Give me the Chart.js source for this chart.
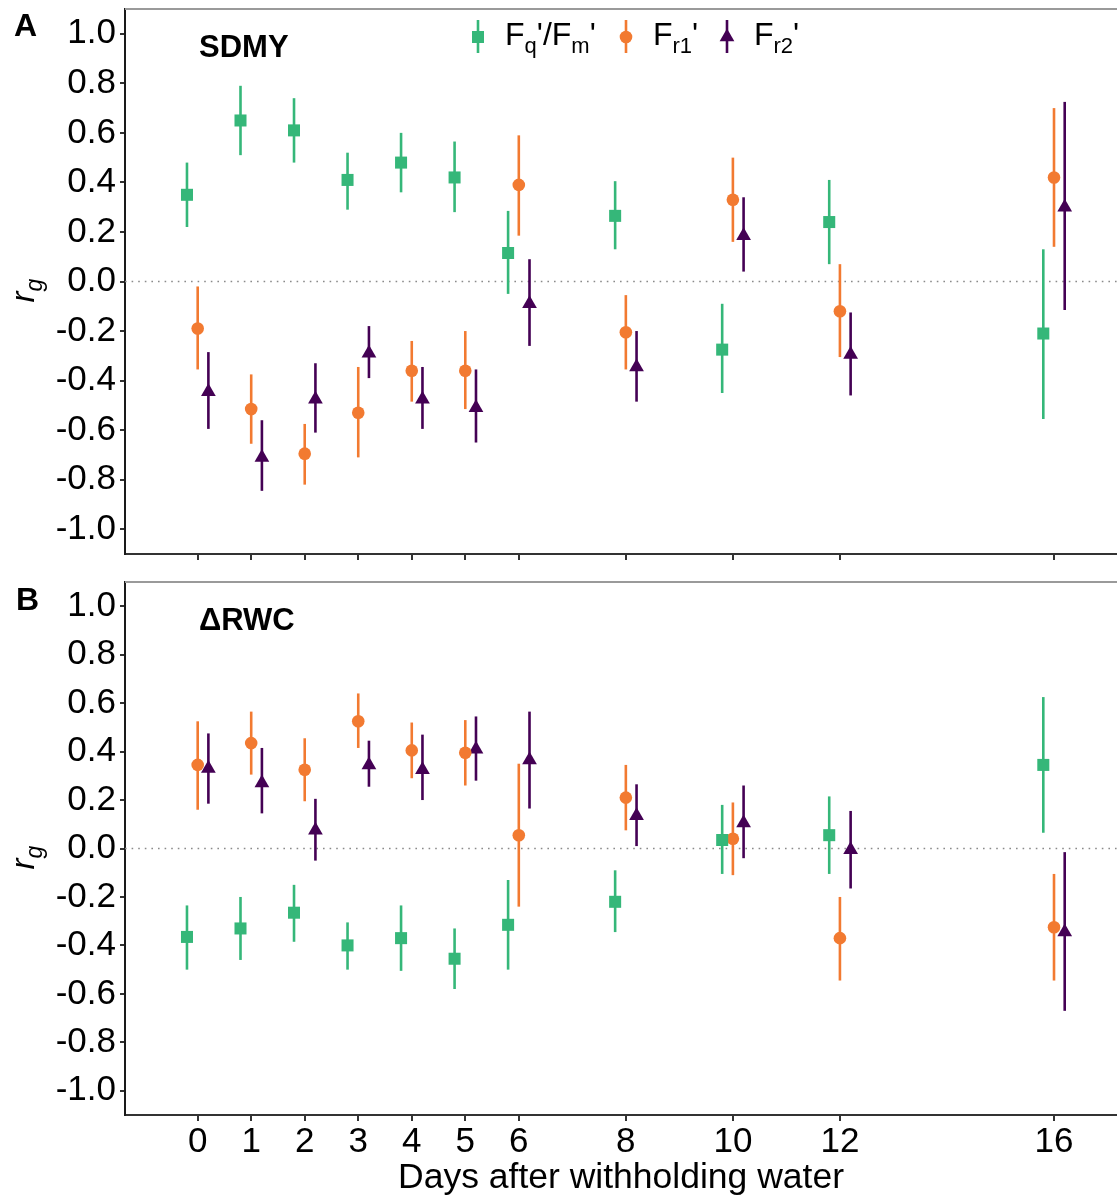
<!DOCTYPE html>
<html>
<head>
<meta charset="utf-8">
<script src="https://cdn.jsdelivr.net/npm/chart.js@4.4.1/dist/chart.umd.min.js"></script>
<style>
  body { margin: 0; background: #fff; }
  #wrap { position: relative; width: 1117px; height: 1196px; }
  canvas { position: absolute; left: 0; }
</style>
</head>
<body>
<div id="wrap">
  <canvas id="chartA" width="1117" height="568" style="top:0;width:1117px;height:568px"></canvas>
  <canvas id="chartB" width="1117" height="628" style="top:568px;width:1117px;height:628px"></canvas>
</div>
<script>
// days after withholding water (x categories)
const days = [0, 1, 2, 3, 4, 5, 6, 8, 10, 12, 16];
const yTicks = [-1.0, -0.8, -0.6, -0.4, -0.2, 0.0, 0.2, 0.4, 0.6, 0.8, 1.0];

// panel A - SDMY
const sdmyFq   = [0.35, 0.65, 0.61, 0.41, 0.48, 0.42, 0.115, 0.265, -0.275, 0.24, -0.21];
const sdmyFqLo = [0.22, 0.51, 0.48, 0.29, 0.36, 0.28, -0.05, 0.13, -0.45, 0.07, -0.555];
const sdmyFqHi = [0.48, 0.79, 0.74, 0.52, 0.60, 0.565, 0.285, 0.405, -0.09, 0.41, 0.13];

const sdmyFr1   = [-0.19, -0.515, -0.695, -0.53, -0.36, -0.36, 0.39, -0.205, 0.33, -0.12, 0.42];
const sdmyFr1Lo = [-0.355, -0.655, -0.82, -0.71, -0.485, -0.515, 0.185, -0.355, 0.16, -0.305, 0.14];
const sdmyFr1Hi = [-0.02, -0.375, -0.575, -0.345, -0.24, -0.2, 0.59, -0.055, 0.50, 0.07, 0.70];

const sdmyFr2   = [-0.445, -0.71, -0.475, -0.29, -0.475, -0.51, -0.09, -0.345, 0.185, -0.295, 0.30];
const sdmyFr2Lo = [-0.595, -0.845, -0.61, -0.39, -0.595, -0.65, -0.26, -0.485, 0.04, -0.46, -0.115];
const sdmyFr2Hi = [-0.285, -0.56, -0.33, -0.18, -0.345, -0.355, 0.09, -0.20, 0.34, -0.125, 0.725];

// panel B - delta RWC
const rwcFq   = [-0.365, -0.33, -0.265, -0.40, -0.37, -0.455, -0.315, -0.22, 0.035, 0.055, 0.345];
const rwcFqLo = [-0.50, -0.46, -0.385, -0.50, -0.505, -0.58, -0.50, -0.345, -0.105, -0.105, 0.065];
const rwcFqHi = [-0.235, -0.20, -0.15, -0.305, -0.235, -0.33, -0.13, -0.09, 0.18, 0.215, 0.625];

const rwcFr1   = [0.345, 0.435, 0.325, 0.525, 0.405, 0.395, 0.055, 0.21, 0.04, -0.37, -0.325];
const rwcFr1Lo = [0.16, 0.305, 0.195, 0.415, 0.29, 0.26, -0.24, 0.075, -0.11, -0.545, -0.545];
const rwcFr1Hi = [0.525, 0.565, 0.455, 0.64, 0.52, 0.53, 0.35, 0.345, 0.19, -0.20, -0.105];

const rwcFr2   = [0.33, 0.27, 0.075, 0.345, 0.325, 0.41, 0.365, 0.135, 0.105, -0.005, -0.345];
const rwcFr2Lo = [0.185, 0.145, -0.05, 0.255, 0.20, 0.28, 0.165, 0.01, -0.04, -0.165, -0.67];
const rwcFr2Hi = [0.475, 0.415, 0.205, 0.445, 0.47, 0.545, 0.565, 0.265, 0.26, 0.155, -0.015];

const GREEN = "#35b779", ORANGE = "#f27a31", PURPLE = "#440154";
const FONT = "'Liberation Sans', Arial, sans-serif";

// dodge so the three series sit side by side
const dodge = { fq: -0.2, fr1: 0, fr2: 0.2 };

function series(vals, lo, hi, off, color, shape, radius) {
    return {
        data: vals.map((v, i) => ({ x: days[i] + off, y: v })),
        lo: lo, hi: hi,
        borderColor: color,
        backgroundColor: color,
        pointStyle: shape,
        pointRadius: radius,
        pointHoverRadius: radius,
        pointBorderWidth: 0,
        showLine: false
    };
}

// text with subscripts: parts = [[text, isSub], ...]
function drawParts(ctx, parts, x, base, size, style) {
    parts.forEach(([t, sub]) => {
        ctx.font = (style || "") + " " + (sub ? Math.round(size * 0.7) : size) + "px " + FONT;
        ctx.fillText(t, x, sub ? base + size * 0.24 : base);
        x += ctx.measureText(t).width;
    });
    return x;
}

// -----------------------------
// zero line, top border, error bars, labels, legend
// -----------------------------
const panelDeco = {
    id: "panelDeco",
    beforeDatasetsDraw(chart) {
        const { ctx, chartArea: a, scales: { x, y } } = chart;
        ctx.save();
        const y0 = y.getPixelForValue(0);
        ctx.strokeStyle = "#8a8a8a";
        ctx.lineWidth = 1.6;
        ctx.setLineDash([1.6, 5]);
        ctx.beginPath(); ctx.moveTo(a.left, y0); ctx.lineTo(a.right, y0); ctx.stroke();
        ctx.setLineDash([]);

        ctx.strokeStyle = "#9a9a9a";
        ctx.lineWidth = 2;
        ctx.beginPath(); ctx.moveTo(a.left, a.top); ctx.lineTo(a.right, a.top); ctx.stroke();

        chart.data.datasets.forEach(ds => {
            ctx.strokeStyle = ds.borderColor;
            ctx.lineWidth = 2.6;
            ds.data.forEach((p, i) => {
                const px = x.getPixelForValue(p.x);
                ctx.beginPath();
                ctx.moveTo(px, y.getPixelForValue(ds.lo[i]));
                ctx.lineTo(px, y.getPixelForValue(ds.hi[i]));
                ctx.stroke();
            });
        });
        ctx.restore();
    },
    afterDraw(chart, args, opts) {
        const { ctx, scales: { y } } = chart;
        ctx.save();
        ctx.fillStyle = "#000";
        ctx.textBaseline = "alphabetic";
        ctx.textAlign = "left";

        ctx.font = "bold 32px " + FONT;
        ctx.fillText(opts.letter, opts.letterX, opts.letterY);

        drawParts(ctx, opts.title, 199, opts.titleY, 31, "bold");

        // y title r_g
        const y0 = y.getPixelForValue(0);
        ctx.translate(34, y0 + 21);
        ctx.rotate(-Math.PI / 2);
        drawParts(ctx, [["r", false], ["g", true]], 0, 0, 33, "italic");
        ctx.restore();

        if (opts.legend) drawLegend(ctx);
    }
};

function drawLegend(ctx) {
    const items = [
        { x: 478, color: GREEN, shape: "rect", r: 8.5,
          parts: [["F", false], ["q", true], ["'/F", false], ["m", true], ["'", false]] },
        { x: 626, color: ORANGE, shape: "circle", r: 6.3,
          parts: [["F", false], ["r1", true], ["'", false]] },
        { x: 727, color: PURPLE, shape: "triangle", r: 8.5,
          parts: [["F", false], ["r2", true], ["'", false]] }
    ];
    ctx.save();
    items.forEach(it => {
        ctx.strokeStyle = it.color;
        ctx.lineWidth = 2.6;
        ctx.beginPath(); ctx.moveTo(it.x, 20); ctx.lineTo(it.x, 53); ctx.stroke();
        ctx.fillStyle = it.color;
        Chart.helpers.drawPoint(ctx, { pointStyle: it.shape, radius: it.r, borderWidth: 0, rotation: 0 }, it.x, 37);
        ctx.fillStyle = "#000";
        drawParts(ctx, it.parts, it.x + 27, 45, 32, "");
    });
    ctx.restore();
}

function makeChart(id, datasets, cfg) {
    return new Chart(document.getElementById(id), {
        type: "scatter",
        data: { datasets: datasets },
        plugins: [panelDeco],
        options: {
            responsive: false,
            animation: false,
            events: [],
            layout: { autoPadding: false, padding: { top: cfg.padTop, right: 0, bottom: 0, left: 0 } },
            plugins: {
                legend: { display: false },
                tooltip: { enabled: false },
                panelDeco: cfg.deco
            },
            scales: {
                x: {
                    type: "linear",
                    min: -1.358,
                    max: 17.177,
                    afterBuildTicks: s => { s.ticks = days.map(v => ({ value: v })); },
                    afterFit: s => { s.height = cfg.xHeight; s.paddingLeft = 0; s.paddingRight = 0; },
                    grid: { drawOnChartArea: false, drawTicks: true, tickLength: 6, color: "#333", lineWidth: 2 },
                    border: { display: true, color: "#333", width: 2 },
                    ticks: {
                        display: cfg.xLabels,
                        autoSkip: false,
                        maxRotation: 0,
                        padding: 0,
                        color: "#000",
                        font: { family: FONT, size: 35 },
                        callback: v => String(v)
                    },
                    title: {
                        display: cfg.xLabels,
                        text: "Days after withholding water",
                        color: "#000",
                        padding: { top: 0, bottom: -4 },
                        font: { family: FONT, size: 35.5 }
                    }
                },
                y: {
                    min: -1.1,
                    max: 1.1,
                    afterBuildTicks: s => { s.ticks = yTicks.map(v => ({ value: v })); },
                    afterFit: s => { s.width = 125; s.paddingTop = 0; s.paddingBottom = 0; },
                    grid: { drawOnChartArea: false, drawTicks: true, tickLength: 5, color: "#333", lineWidth: 2 },
                    border: { display: true, color: "#1a1a1a", width: 2 },
                    ticks: {
                        padding: 4,
                        color: "#000",
                        font: { family: FONT, size: 35 },
                        callback: v => v.toFixed(1)
                    }
                }
            }
        }
    });
}

makeChart("chartA", [
    series(sdmyFq, sdmyFqLo, sdmyFqHi, dodge.fq, GREEN, "rect", 8.5),
    series(sdmyFr1, sdmyFr1Lo, sdmyFr1Hi, dodge.fr1, ORANGE, "circle", 6.3),
    series(sdmyFr2, sdmyFr2Lo, sdmyFr2Hi, dodge.fr2, PURPLE, "triangle", 8.5)
], {
    padTop: 9, xHeight: 14, xLabels: false,
    deco: { letter: "A", letterX: 14, letterY: 36, title: [["SDMY", false]], titleY: 57, legend: true }
});

makeChart("chartB", [
    series(rwcFq, rwcFqLo, rwcFqHi, dodge.fq, GREEN, "rect", 8.5),
    series(rwcFr1, rwcFr1Lo, rwcFr1Hi, dodge.fr1, ORANGE, "circle", 6.3),
    series(rwcFr2, rwcFr2Lo, rwcFr2Hi, dodge.fr2, PURPLE, "triangle", 8.5)
], {
    padTop: 14, xHeight: 81, xLabels: true,
    deco: { letter: "B", letterX: 16, letterY: 42, title: [["\u0394", false], ["RWC", false]], titleY: 62, legend: false }
});
</script>
</body>
</html>
